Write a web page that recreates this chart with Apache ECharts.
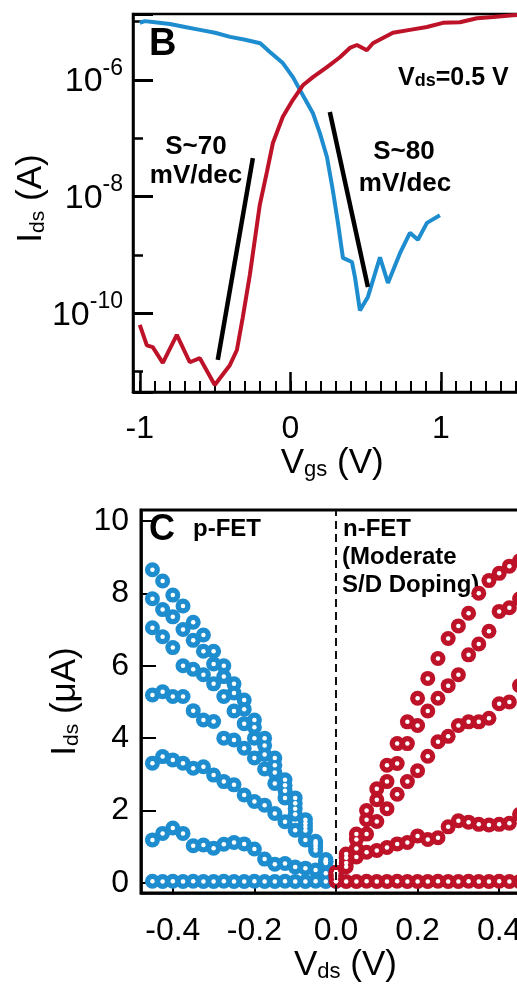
<!DOCTYPE html>
<html><head><meta charset="utf-8">
<script src="https://cdn.jsdelivr.net/npm/echarts@6/dist/echarts.min.js"></script>
<style>html,body{margin:0;padding:0;background:#fff;}#c{width:517px;height:984px;}</style>
</head><body><div id="c"></div>
<script>
// ---------- Panel B : transfer curves (log10 of Ids in A) ----------
const vgsBlue = [-1.0,-0.967,-0.9,-0.8,-0.7,-0.6,-0.5,-0.4,-0.3,-0.2,-0.136,-0.05,0.017,0.083,0.15,0.196,0.243,0.282,0.316,0.349,0.409,0.429,0.462,0.515,0.595,0.648,0.728,0.794,0.847,0.907,0.993];
const logIdsBlue = [-5.02,-4.99,-5.01,-5.04,-5.09,-5.14,-5.19,-5.26,-5.31,-5.37,-5.52,-5.71,-5.95,-6.26,-6.57,-6.91,-7.32,-7.89,-8.45,-9.05,-9.12,-9.38,-9.95,-9.72,-9.04,-9.48,-8.97,-8.62,-8.74,-8.45,-8.32];
const vgsRed = [-1.0,-0.953,-0.914,-0.847,-0.754,-0.668,-0.601,-0.502,-0.402,-0.355,-0.316,-0.269,-0.236,-0.203,-0.156,-0.116,-0.05,0.017,0.083,0.15,0.243,0.329,0.395,0.442,0.508,0.548,0.681,0.794,0.907,1.013,1.126,1.239,1.346,1.478,1.6];
const logIdsRed = [-10.20,-10.55,-10.58,-10.85,-10.37,-10.84,-10.77,-11.23,-10.89,-10.63,-10.07,-9.34,-8.74,-8.14,-7.58,-7.08,-6.63,-6.34,-6.09,-5.95,-5.78,-5.61,-5.45,-5.40,-5.49,-5.37,-5.19,-5.14,-5.09,-5.02,-5.01,-4.94,-4.92,-4.89,-4.87];
const slope70V = [-0.482, -0.249];
const slope70LogI = [-10.80, -7.34];
const slope80V = [0.262, 0.515];
const slope80LogI = [-6.55, -9.55];
const expTickLabels = [-10, -8, -6];

// ---------- Panel C : output curves (Ids in uA) ----------
const vdsP = [-0.45,-0.425,-0.4,-0.375,-0.35,-0.325,-0.3,-0.275,-0.25,-0.225,-0.2,-0.175,-0.15,-0.125,-0.1,-0.075,-0.05,-0.025,0];
const idsP0 = [0.05,0.04,0.05,0.04,0.05,0.04,0.04,0.05,0.04,0.04,0.05,0.04,0.04,0.05,0.04,0.04,0.05,0.04,0.05];
const idsP1 = [1.19,1.37,1.52,1.37,1.03,1.05,0.96,1.07,1.12,1.08,0.94,0.66,0.52,0.54,0.44,0.41,0.36,0.27,0.17];
const idsP2 = [3.31,3.49,3.40,3.31,3.17,3.21,2.98,2.80,2.71,2.43,2.25,2.15,1.92,1.69,1.46,1.19,0.90,0.60,0.30];
const idsP3 = [5.19,5.28,5.15,5.15,4.76,4.50,4.46,4.00,3.95,3.72,3.45,3.15,2.75,2.35,1.90,1.45,0.98,0.55,0.24];
const idsP4 = [7.05,6.80,6.50,6.00,5.90,5.75,5.50,5.15,4.75,4.40,4.00,3.55,3.05,2.55,2.05,1.55,1.05,0.58,0.26];
const idsP5 = [7.85,7.55,7.35,7.00,6.70,6.40,6.05,5.70,5.25,4.80,4.30,3.80,3.25,2.70,2.20,1.65,1.10,0.60,0.28];
const idsP6 = [8.65,8.34,7.95,7.65,7.20,6.85,6.40,6.00,5.50,5.05,4.50,4.00,3.45,2.85,2.35,1.75,1.15,0.65,0.30];
const vdsN = [0,0.025,0.05,0.075,0.1,0.125,0.15,0.175,0.2,0.225,0.25,0.275,0.3,0.325,0.35,0.375,0.4,0.425,0.45];
const idsN0 = [0.05,0.04,0.04,0.05,0.04,0.04,0.05,0.04,0.04,0.04,0.05,0.04,0.04,0.05,0.04,0.04,0.05,0.04,0.04];
const idsN1 = [0.15,0.45,0.72,0.85,0.90,0.98,1.08,1.12,1.30,1.20,1.25,1.55,1.72,1.68,1.62,1.60,1.62,1.65,1.90];
const idsN2 = [0.20,0.55,0.95,1.35,1.70,2.05,2.45,2.80,3.10,3.50,3.90,4.05,4.35,4.45,4.45,4.55,4.95,5.00,5.45];
const idsN3 = [0.25,0.70,1.20,1.75,2.30,2.80,3.30,3.85,4.35,4.75,5.10,5.45,5.75,6.30,6.60,6.95,7.50,7.60,7.85];
const idsN4 = [0.30,0.80,1.35,2.00,2.60,3.25,3.85,4.45,5.10,5.65,6.20,6.75,7.10,7.45,8.00,8.35,8.55,8.75,8.90];

const BLUE = '#1e8dcf';
const RED = '#bd1228';
const FONT = '"Liberation Sans", Arial, Helvetica, sans-serif';
const zip = (xs, ys) => xs.map((x, i) => [x, ys[i]]);
const isInt = v => Math.abs(v - Math.round(v)) < 1e-9;

const chart = echarts.init(document.getElementById('c'), null, {renderer: 'canvas'});

const blackAxisLine = w => ({onZero: false, lineStyle: {color: '#000', width: w}});
// open-circle markers: coloured disc + white centre, both placed by the axes
const disc = (xs, ys, color) => ({
  type: 'scatter', xAxisIndex: 2, yAxisIndex: 3, data: zip(xs, ys),
  symbol: 'circle', symbolSize: 15, z: 2,
  itemStyle: {color: color, opacity: 1},
  emphasis: {disabled: true}, silent: true
});
const hole = (xs, ys) => ({
  type: 'scatter', xAxisIndex: 2, yAxisIndex: 3, data: zip(xs, ys),
  symbol: 'circle', symbolSize: 4.5, z: 3,
  itemStyle: {color: '#fff', opacity: 1},
  emphasis: {disabled: true}, silent: true
});
const pSets = [idsP0, idsP1, idsP2, idsP3, idsP4, idsP5, idsP6];
const nSets = [idsN0, idsN1, idsN2, idsN3, idsN4];

const txt = (text, x, y, size, align) => ({
  type: 'text', x: x, y: y, silent: true,
  style: {text: text, font: 'bold ' + size + 'px ' + FONT, fill: '#000', align: align || 'left', verticalAlign: 'middle'}
});

const pDiscs = pSets.map(s => disc(vdsP, s, BLUE));
pDiscs[0].markLine = {silent: true, symbol: ['none', 'none'], label: {show: false},
  lineStyle: {color: '#111', type: [8, 5], width: 2}, data: [{xAxis: 0}]};

const option = {
  animation: false,
  backgroundColor: '#fff',
  grid: [
    {left: 133, top: 14, width: 398.3, height: 378, show: true, borderColor: '#000', borderWidth: 2.5,
     backgroundColor: 'transparent', containLabel: false, outerBoundsMode: 'none'},
    {left: 139.78, top: 14, width: 391.52, height: 378, show: false, containLabel: false, outerBoundsMode: 'none'},
    {left: 141, top: 510, width: 390.8, height: 383, show: true, borderColor: '#000', borderWidth: 3,
     backgroundColor: 'transparent', containLabel: false, outerBoundsMode: 'none'}
  ],
  xAxis: [
    {gridIndex: 0, type: 'value', position: 'bottom', min: -1.045, max: 1.6, splitNumber: 3,
     splitLine: {show: false}, axisLine: blackAxisLine(2.5),
     axisTick: {inside: true, length: 20, lineStyle: {color: '#000', width: 2.5}},
     axisLabel: {fontSize: 32, color: '#000', fontFamily: FONT, margin: 21,
       formatter: v => isInt(v) ? String(Math.round(v)) : ''},
     name: '{a|V}{b|gs}{a| (V)}', nameLocation: 'middle', nameGap: 50,
     nameTextStyle: {rich: {a: {fontSize: 35, fontFamily: FONT, color: '#000'},
                            b: {fontSize: 22, fontFamily: FONT, color: '#000', verticalAlign: 'bottom'}}}},
    {gridIndex: 1, type: 'value', position: 'bottom', min: -1, max: 1.6, interval: 0.1,
     splitLine: {show: false}, axisLine: {show: false, onZero: false},
     axisTick: {inside: true, length: 11, lineStyle: {color: '#000', width: 2}},
     axisLabel: {show: false}},
    {gridIndex: 2, type: 'value', position: 'bottom', min: -0.478, max: 0.48, splitNumber: 5,
     splitLine: {show: false}, axisLine: blackAxisLine(2.5),
     axisTick: {inside: true, length: 7, lineStyle: {color: '#000', width: 2}},
     axisLabel: {fontSize: 32, color: '#000', fontFamily: FONT, margin: 22,
       formatter: v => isInt(v * 5) ? v.toFixed(1) : ''},
     name: '{a|V}{b|ds}{a| (V)}', nameLocation: 'middle', nameGap: 51,
     nameTextStyle: {padding: [0, 0, 0, 18], rich: {a: {fontSize: 35, fontFamily: FONT, color: '#000'},
                            b: {fontSize: 22, fontFamily: FONT, color: '#000', verticalAlign: 'bottom'}}}}
  ],
  yAxis: [
    {gridIndex: 0, type: 'value', position: 'left', min: -11.35, max: -4.868, splitNumber: 7,
     splitLine: {show: false}, axisLine: blackAxisLine(2.5),
     axisTick: {inside: true, length: 10, lineStyle: {color: '#000', width: 2.5}},
     axisLabel: {show: false},
     name: '{a|I}{b|ds}{a| (A)}', nameLocation: 'middle', nameGap: 84,
     nameTextStyle: {padding: [0, 0, 0, 9], rich: {a: {fontSize: 35, fontFamily: FONT, color: '#000'},
                            b: {fontSize: 21, fontFamily: FONT, color: '#000', verticalAlign: 'bottom'}}}},
    {gridIndex: 0, type: 'value', position: 'left', offset: 0, min: -11.35, max: -4.868, splitNumber: 3,
     splitLine: {show: false}, axisLine: {show: false, onZero: false},
     axisTick: {inside: true, length: 20, lineStyle: {color: '#000', width: 3}},
     axisLabel: {margin: 10, color: '#000',
       formatter: v => (isInt(v) && expTickLabels.indexOf(Math.round(v)) >= 0) ? '{b|10}{s|' + Math.round(v) + '}' : '',
       rich: {b: {fontSize: 34, fontFamily: FONT, color: '#000', padding: [8, 0, 4, 0]},
              s: {fontSize: 23, fontFamily: FONT, color: '#000', verticalAlign: 'top'}}}},
    {gridIndex: 1, type: 'value', position: 'left', min: -11.35, max: -4.868, show: false},
    {gridIndex: 2, type: 'value', position: 'left', min: -0.276, max: 10.3, splitNumber: 5,
     splitLine: {show: false}, axisLine: blackAxisLine(2.5),
     axisTick: {inside: true, length: 15, lineStyle: {color: '#000', width: 2}},
     axisLabel: {fontSize: 32, color: '#000', fontFamily: FONT, margin: 12,
       formatter: v => (isInt(v) && Math.round(v) % 2 === 0) ? String(Math.round(v)) : ''},
     name: '{a|I}{b|ds}{a| (\u03bcA)}', nameLocation: 'middle', nameGap: 47,
     nameTextStyle: {rich: {a: {fontSize: 35, fontFamily: FONT, color: '#000'},
                            b: {fontSize: 21, fontFamily: FONT, color: '#000', verticalAlign: 'bottom'}}}}
  ],
  series: [
    {type: 'line', xAxisIndex: 0, yAxisIndex: 0, data: zip(vgsBlue, logIdsBlue), symbol: 'none',
     lineStyle: {color: BLUE, width: 4}, z: 2, silent: true},
    {type: 'line', xAxisIndex: 0, yAxisIndex: 0, data: zip(vgsRed, logIdsRed), symbol: 'none',
     lineStyle: {color: RED, width: 4}, z: 3, silent: true},
    {type: 'line', xAxisIndex: 0, yAxisIndex: 0, data: zip(slope70V, slope70LogI), symbol: 'none',
     lineStyle: {color: '#000', width: 4.5}, z: 4, silent: true},
    {type: 'line', xAxisIndex: 0, yAxisIndex: 0, data: zip(slope80V, slope80LogI), symbol: 'none',
     lineStyle: {color: '#000', width: 4.5}, z: 4, silent: true}
  ].concat(pDiscs)
   .concat(nSets.map(s => disc(vdsN, s, RED)))
   .concat(pSets.map(s => hole(vdsP, s)))
   .concat(nSets.map(s => hole(vdsN, s))),
  graphic: [
    txt('B', 149, 45, 38),
    {type: 'text', x: 398, y: 78, silent: true,
     style: {text: '{a|V}{b|ds}{a|=0.5 V}', align: 'left', verticalAlign: 'middle',
       rich: {a: {font: 'bold 25px ' + FONT, fill: '#000'},
              b: {font: 'bold 18px ' + FONT, fill: '#000', verticalAlign: 'bottom'}}}},
    txt('S~70', 196, 147, 26, 'center'),
    txt('mV/dec', 196, 176, 26, 'center'),
    txt('S~80', 404, 152, 26, 'center'),
    txt('mV/dec', 405, 184, 26, 'center'),
    txt('C', 149, 530, 36),
    txt('p-FET', 193, 529, 24),
    txt('n-FET', 343, 529, 24),
    txt('(Moderate', 342, 557, 24),
    txt('S/D Doping)', 342, 585, 24)
  ]
};
chart.setOption(option);
</script></body></html>
